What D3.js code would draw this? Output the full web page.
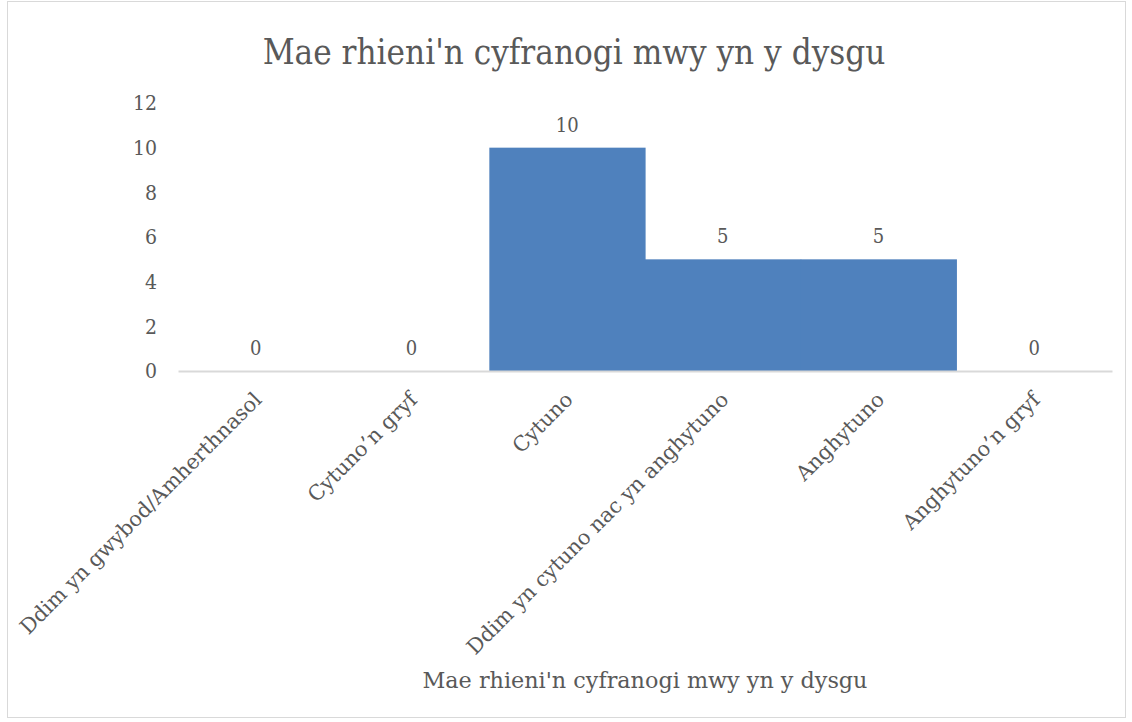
<!DOCTYPE html>
<html>
<head>
<meta charset="utf-8">
<script src="https://cdn.jsdelivr.net/npm/d3@7"></script>
<style>
  body { margin: 0; background: #fff; }
  text { font-family: "DejaVu Serif Condensed", "DejaVu Serif", serif; fill: #595959; }
  .wide { font-family: "DejaVu Serif", serif; }
</style>
</head>
<body>
<div id="wrapper"></div>
<script>
const categories = [
  "Ddim yn gwybod/Amherthnasol",
  "Cytuno’n gryf",
  "Cytuno",
  "Ddim yn cytuno nac yn anghytuno",
  "Anghytuno",
  "Anghytuno’n gryf",
];
const values = [0, 0, 10, 5, 5, 0];
const yTicks = [0, 2, 4, 6, 8, 10, 12];
const chartTitle = "Mae rhieni'n cyfranogi mwy yn y dysgu";
const xTitle = "Mae rhieni'n cyfranogi mwy yn y dysgu";

const width = 1132;
const height = 722;
const margin = { top: 103, right: 20, bottom: 351, left: 178 };
const boundedWidth = width - margin.left - margin.right;
const boundedHeight = height - margin.top - margin.bottom;

const svg = d3
  .select("#wrapper")
  .append("svg")
  .attr("width", width)
  .attr("height", height);

// chart border
svg
  .append("rect")
  .attr("x", 7.5)
  .attr("y", 1.5)
  .attr("width", 1118)
  .attr("height", 716)
  .attr("fill", "none")
  .attr("stroke", "#d9d9d9");

svg
  .append("text")
  .attr("x", 574)
  .attr("y", 64)
  .attr("text-anchor", "middle")
  .style("font-size", "34.7px")
  .text(chartTitle);

const bounds = svg
  .append("g")
  .attr("transform", `translate(${margin.left},${margin.top})`);

const xScale = d3
  .scaleBand()
  .domain(categories)
  .range([0, boundedWidth])
  .padding(0);

const yScale = d3.scaleLinear().domain([0, 12]).range([boundedHeight, 0]);

bounds
  .selectAll("rect.bar")
  .data(values)
  .join("rect")
  .attr("class", "bar")
  .attr("x", (d, i) => xScale(categories[i]))
  .attr("y", (d) => yScale(d))
  .attr("width", xScale.bandwidth() + 0.6)
  .attr("height", (d) => boundedHeight - yScale(d))
  .attr("fill", "#4f81bd");

// y axis labels
const yAxis = bounds
  .append("g")
  .call(d3.axisLeft(yScale).tickValues(yTicks).tickSize(0).tickPadding(21));
yAxis.select(".domain").remove();
yAxis
  .selectAll("text")
  .style("font-size", "21px")
  .style("font-family", null)
  .attr("fill", null);

// x axis
const xAxis = bounds
  .append("g")
  .attr("transform", `translate(0,${boundedHeight})`)
  .call(d3.axisBottom(xScale).tickSize(0).tickPadding(0));
xAxis.select(".domain").attr("stroke", "#d9d9d9").attr("stroke-width", 2);
xAxis
  .selectAll("text")
  .attr("class", "wide")
  .style("font-size", "20.8px")
  .style("font-family", null)
  .attr("fill", null)
  .attr("text-anchor", "end")
  .attr("dy", null)
  .attr("y", 0)
  .attr("transform", "translate(7,30) rotate(-45)");

// data labels
bounds
  .selectAll("text.label")
  .data(values)
  .join("text")
  .attr("class", "label")
  .attr("x", (d, i) => xScale(categories[i]) + xScale.bandwidth() / 2)
  .attr("y", (d) => yScale(d) - 16)
  .attr("text-anchor", "middle")
  .style("font-size", "20px")
  .text((d) => d);

svg
  .append("text")
  .attr("class", "wide")
  .attr("x", 645)
  .attr("y", 688)
  .attr("text-anchor", "middle")
  .style("font-size", "22.3px")
  .text(xTitle);
</script>
</body>
</html>
